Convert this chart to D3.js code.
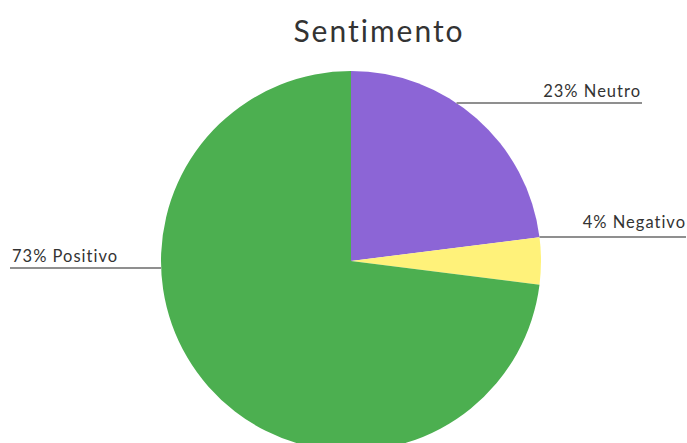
<!DOCTYPE html>
<html>
<head>
<meta charset="utf-8">
<script src="https://cdn.jsdelivr.net/npm/d3@7"></script>
<style>
  html, body { margin: 0; padding: 0; background: #ffffff; }
  svg { display: block; }
</style>
</head>
<body>
<svg id="chart" width="687" height="443"></svg>
<script>
// Sentiment breakdown
const categories = ["Neutro", "Negativo", "Positivo"];
const shares = [23, 4, 73];
const labelTexts = ["23% Neutro", "4% Negativo", "73% Positivo"];
const sliceColors = ["#8c65d6", "#fff27a", "#4caf50"];

const width = 687, height = 443;
const cx = 351, cy = 261, radius = 190;
const fontStack = "Lato, 'Open Sans', sans-serif";

const svg = d3.select("#chart");

svg.append("text")
  .attr("x", 379)
  .attr("y", 42)
  .attr("text-anchor", "middle")
  .attr("font-family", fontStack)
  .attr("font-size", 30)
  .attr("letter-spacing", 2)
  .attr("fill", "#333")
  .text("Sentimento");

const data = categories.map((c, i) => ({ name: c, value: shares[i], label: labelTexts[i], color: sliceColors[i] }));

const pie = d3.pie().sort(null).value(d => d.value);
const arc = d3.arc().innerRadius(0).outerRadius(radius);
const arcs = pie(data);

const g = svg.append("g").attr("transform", `translate(${cx},${cy})`);

g.selectAll("path")
  .data(arcs)
  .join("path")
  .attr("d", arc)
  .attr("fill", d => d.data.color);

// Leader lines: horizontal rules running from the pie rim out to the label
const leaders = [
  { y: 103, end: 642, side: 1, textX: 641, textY: 97 },
  { y: 237, end: 686, side: 1, textX: 686, textY: 228 },
  { y: 268, end: 10, side: -1, textX: 12, textY: 262 }
];

arcs.forEach((a, i) => {
  const L = leaders[i];
  const dy = L.y - cy;
  const rimX = cx + L.side * Math.sqrt(Math.max(0, radius * radius - dy * dy));
  svg.append("line")
    .attr("x1", rimX)
    .attr("x2", L.end)
    .attr("y1", L.y)
    .attr("y2", L.y)
    .attr("stroke", "#8f8f8f")
    .attr("stroke-width", 2);
  svg.append("text")
    .attr("x", L.textX)
    .attr("y", L.textY)
    .attr("text-anchor", L.side > 0 ? "end" : "start")
    .attr("font-family", fontStack)
    .attr("font-size", 16.5)
    .attr("letter-spacing", 1)
    .attr("fill", "#333")
    .text(a.data.label);
});
</script>
</body>
</html>
